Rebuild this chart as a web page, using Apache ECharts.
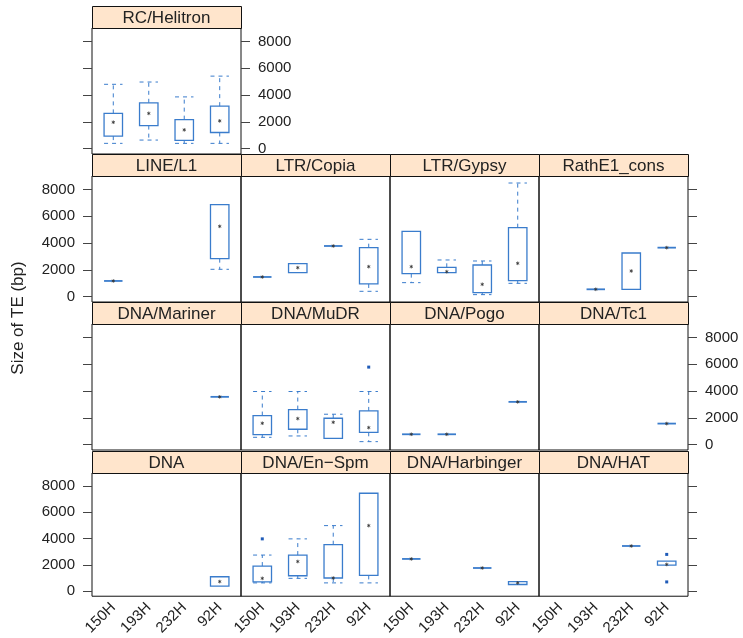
<!DOCTYPE html>
<html><head><meta charset="utf-8">
<script src="https://cdn.jsdelivr.net/npm/echarts@6/dist/echarts.min.js"></script>
<style>html,body{margin:0;padding:0;background:#fff}#c{width:743px;height:638px}</style>
</head><body><div id="c"></div>
<script>
// ---- data ----
const groups = ['150H', '193H', '232H', '92H'];
const yTicks = [0, 2000, 4000, 6000, 8000];
const panelNames = ['RC/Helitron', 'LINE/L1', 'LTR/Copia', 'LTR/Gypsy', 'RathE1_cons',
  'DNA/Mariner', 'DNA/MuDR', 'DNA/Pogo', 'DNA/Tc1',
  'DNA', 'DNA/En\u2212Spm', 'DNA/Harbinger', 'DNA/HAT'];
// each group: [min, q1, median, q3, max] or null
const RC_Helitron = [[394, 935, 1970, 2630, 4800], [640, 1720, 2630, 3420, 4970], [394, 615, 1400, 2165, 3860], [394, 1205, 2070, 3170, 5410]];
const LINE_L1 = [[1170, 1170, 1170, 1170, 1170], null, null, [2040, 2834, 5245, 6860, 6860]];
const LTR_Copia = [[1467, 1467, 1467, 1467, 1467], [1790, 1790, 2163, 2461, 2461], [3779, 3779, 3779, 3779, 3779], [398, 945, 2237, 3654, 4276]];
const LTR_Gypsy = [[1044, 1715, 2237, 4873, 4873], [1790, 1790, 1865, 2188, 2735], [150, 298, 920, 2362, 2660], [994, 1193, 2486, 5146, 8477]];
const RathE1_cons = [null, [547, 547, 547, 547, 547], [547, 547, 1914, 3257, 3257], [3654, 3654, 3654, 3654, 3654]];
const DNA_Mariner = [null, null, null, [3565, 3565, 3565, 3565, 3565]];
const DNA_MuDR = [[548, 748, 1596, 2169, 3964], [648, 1147, 1945, 2618, 3964], [474, 474, 1670, 1970, 2269], [224, 922, 1271, 2518, 3964]];
const DNA_Pogo = [[773, 773, 773, 773, 773], [773, 773, 773, 773, 773], null, [3191, 3191, 3191, 3191, 3191]];
const DNA_Tc1 = [null, null, null, [1570, 1570, 1570, 1570, 1570]];
const DNA_ = [null, null, null, [370, 370, 716, 1086, 1086]];
const DNA_EnSpm = [[617, 691, 963, 1901, 2740], [963, 1160, 2247, 2740, 3975], [617, 988, 988, 3531, 4987], [617, 1185, 4987, 7456, 7456]];
const DNA_Harbinger = [[2444, 2444, 2444, 2444, 2444], null, [1753, 1753, 1753, 1753, 1753], [494, 494, 617, 716, 716]];
const DNA_HAT = [null, null, [3432, 3432, 3432, 3432, 3432], [1975, 1975, 2025, 2271, 2271]];
// outliers: [groupIndex, value]
const MuDR_out = [[3, 5784]];
const EnSpm_out = [[0, 3975]];
const HAT_out = [[3, 2790], [3, 691]];

const panelStats = [RC_Helitron, LINE_L1, LTR_Copia, LTR_Gypsy, RathE1_cons, DNA_Mariner, DNA_MuDR, DNA_Pogo, DNA_Tc1, DNA_, DNA_EnSpm, DNA_Harbinger, DNA_HAT];
const panelOut = {6: MuDR_out, 10: EnSpm_out, 12: HAT_out};

// ---- layout ----
const colLeft = [92, 241, 390, 539];
const panelW = 149;
const stripTop = [6, 154, 302, 451];
const stripH = 22;
const panelH = 126;
// panel -> [row, col]
const pos = [[0, 0], [1, 0], [1, 1], [1, 2], [1, 3], [2, 0], [2, 1], [2, 2], [2, 3], [3, 0], [3, 1], [3, 2], [3, 3]];
// which side gets labels per row
const labelSide = ['right', 'left', 'right', 'left'];

const BLUE = '#3a7ccc';
const FONT = 'Liberation Sans, Arial, Helvetica, sans-serif';

const grids = [], xAxes = [], yAxes = [], series = [], graphics = [];

function renderBox(params, api) {
  const x = api.value(0);
  const mn = api.value(1), q1 = api.value(2), md = api.value(3), q3 = api.value(4), mx = api.value(5);
  const half = api.size([0.52, 0])[0] / 2;
  const cx = api.coord([x, md])[0];
  const yMn = api.coord([x, mn])[1], yQ1 = api.coord([x, q1])[1], yMd = api.coord([x, md])[1],
        yQ3 = api.coord([x, q3])[1], yMx = api.coord([x, mx])[1];
  const ch = [];
  const dashStyle = {stroke: BLUE, lineWidth: 1, lineDash: [4, 4], fill: null};
  if (mx > q3) {
    ch.push({type: 'line', shape: {x1: cx, y1: yQ3, x2: cx, y2: yMx}, style: dashStyle});
    ch.push({type: 'line', shape: {x1: cx - half, y1: yMx, x2: cx + half, y2: yMx}, style: dashStyle});
  }
  if (mn < q1) {
    ch.push({type: 'line', shape: {x1: cx, y1: yQ1, x2: cx, y2: yMn}, style: dashStyle});
    ch.push({type: 'line', shape: {x1: cx - half, y1: yMn, x2: cx + half, y2: yMn}, style: dashStyle});
  }
  if (q3 > q1) {
    ch.push({type: 'rect', shape: {x: cx - half, y: yQ3, width: 2 * half, height: yQ1 - yQ3},
      style: {stroke: BLUE, lineWidth: 1.3, fill: null}});
  } else {
    ch.push({type: 'line', shape: {x1: cx - half, y1: yQ1, x2: cx + half, y2: yQ1},
      style: {stroke: BLUE, lineWidth: 1.8}});
  }
  // median: small asterisk
  const r = 1.8;
  ch.push({type: 'line', shape: {x1: cx, y1: yMd - r, x2: cx, y2: yMd + r}, style: {stroke: '#333', lineWidth: 0.8}});
  ch.push({type: 'line', shape: {x1: cx - r * 0.87, y1: yMd - r * 0.5, x2: cx + r * 0.87, y2: yMd + r * 0.5}, style: {stroke: '#333', lineWidth: 0.8}});
  ch.push({type: 'line', shape: {x1: cx - r * 0.87, y1: yMd + r * 0.5, x2: cx + r * 0.87, y2: yMd - r * 0.5}, style: {stroke: '#333', lineWidth: 0.8}});
  return {type: 'group', children: ch};
}

function renderOut(params, api) {
  const p = api.coord([api.value(0), api.value(1)]);
  return {type: 'rect', shape: {x: p[0] - 1.5, y: p[1] - 1.5, width: 3, height: 3}, style: {fill: '#1f5bb8'}};
}

panelNames.forEach((name, i) => {
  const [row, col] = pos[i];
  const left = colLeft[col], top = stripTop[row] + stripH;
  grids.push({left: left, top: top, width: panelW, height: panelH, show: true,
    borderColor: '#111', borderWidth: 1, backgroundColor: 'transparent'});
  const isBottom = row === 3;
  xAxes.push({type: 'value', gridIndex: i, min: 0.4, max: 4.6, position: 'bottom',
    axisLine: {show: false}, splitLine: {show: false},
    axisTick: {show: false},
    axisLabel: {show: isBottom, customValues: [1, 2, 3, 4], rotate: 45, margin: 9,
      formatter: v => groups[Math.round(v) - 1], fontFamily: FONT, fontSize: 15, color: '#222'}});
  const yBase = {type: 'value', gridIndex: i, min: -400, max: 9000,
    axisLine: {show: false}, splitLine: {show: false},
    axisTick: {customValues: yTicks, length: 9, lineStyle: {color: '#444', width: 1}}};
  const leftShown = col === 0;
  const isRightmost = (row === 0) || col === 3;
  const fmt = v => String(Math.round(v));
  yAxes.push(Object.assign({}, yBase, {position: 'left',
    axisTick: Object.assign({}, yBase.axisTick, {show: leftShown}),
    axisLabel: {show: leftShown && labelSide[row] === 'left', customValues: yTicks, margin: 17,
      formatter: fmt, fontFamily: FONT, fontSize: 15, color: '#222'}}));
  const yIdxMain = yAxes.length - 1;
  if (isRightmost) {
    yAxes.push(Object.assign({}, yBase, {position: 'right',
      axisLabel: {show: labelSide[row] === 'right', customValues: yTicks, margin: 17,
        formatter: fmt, fontFamily: FONT, fontSize: 15, color: '#222'}}));
  }
  const data = [];
  panelStats[i].forEach((s, g) => { if (s) data.push([g + 1].concat(s)); });
  series.push({type: 'custom', xAxisIndex: i, yAxisIndex: yIdxMain, renderItem: renderBox,
    data: data, encode: {x: 0, y: [1, 2, 3, 4, 5]}, silent: true, animation: false, clip: false});
  if (panelOut[i]) {
    series.push({type: 'custom', xAxisIndex: i, yAxisIndex: yIdxMain, renderItem: renderOut,
      data: panelOut[i].map(o => [o[0] + 1, o[1]]), encode: {x: 0, y: 1}, silent: true, animation: false});
  }
  // strip
  graphics.push({type: 'rect', left: left, top: stripTop[row], z: 10,
    shape: {x: 0, y: 0, width: panelW, height: stripH},
    style: {fill: '#ffe5cc', stroke: '#111', lineWidth: 1}});
  graphics.push({type: 'text', z: 11, x: left + panelW / 2, y: stripTop[row] + stripH / 2 + 1,
    style: {text: name, font: '17px ' + FONT, fill: '#222', textAlign: 'center', textVerticalAlign: 'middle'}});
});

graphics.push({type: 'text', x: 18, y: 318, rotation: Math.PI / 2, z: 11,
  style: {text: 'Size of TE (bp)', font: '17px ' + FONT, fill: '#222', textAlign: 'center', textVerticalAlign: 'middle'}});

const chart = echarts.init(document.getElementById('c'), null, {renderer: 'canvas'});
chart.setOption({animation: false, grid: grids, xAxis: xAxes, yAxis: yAxes, series: series, graphic: graphics});
</script></body></html>
